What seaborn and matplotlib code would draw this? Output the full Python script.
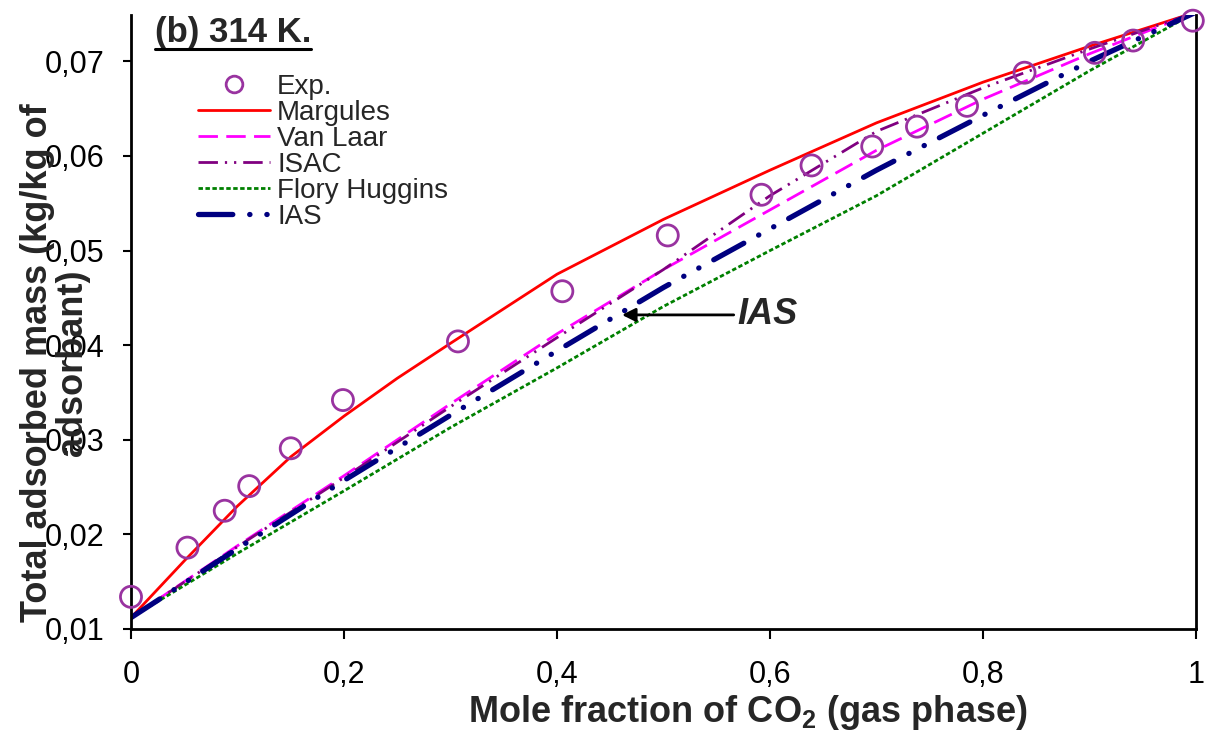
import numpy as np
import pandas as pd
import matplotlib
matplotlib.use("Agg")
import matplotlib.pyplot as plt
import seaborn as sns
from matplotlib.lines import Line2D
from matplotlib.ticker import FuncFormatter, FixedLocator

# ---------------- data ----------------
exp_x = [0.0, 0.053, 0.088, 0.111, 0.150, 0.199, 0.307, 0.405, 0.504, 0.592,
         0.639, 0.696, 0.738, 0.785, 0.839, 0.905, 0.941, 0.997]
exp_y = [0.0134, 0.0186, 0.0225, 0.0251, 0.0291, 0.0342, 0.0404, 0.0457, 0.0516, 0.0559,
         0.0590, 0.0610, 0.0631, 0.0653, 0.0688, 0.0709, 0.0722, 0.0743]

margules_x = [0, 0.05, 0.1, 0.15, 0.2, 0.25, 0.3, 0.4, 0.5, 0.6, 0.7, 0.8, 0.9, 1.0]
margules_y = [0.0112, 0.0172, 0.0230, 0.0282, 0.0325, 0.0365, 0.0402, 0.0475, 0.0533,
              0.0585, 0.0635, 0.0678, 0.0716, 0.0752]

model_x = [0, 0.1, 0.2, 0.3, 0.4, 0.5, 0.6, 0.7, 0.8, 0.9, 1.0]
vanlaar_y = [0.0112, 0.0188, 0.0262, 0.0338, 0.0412, 0.0480, 0.0543, 0.0606, 0.0660, 0.0708, 0.0752]
isac_y = [0.0112, 0.0187, 0.0260, 0.0335, 0.0408, 0.0480, 0.0558, 0.0626, 0.0672, 0.0713, 0.0752]
flory_y = [0.0112, 0.0180, 0.0246, 0.0313, 0.0376, 0.0441, 0.0500, 0.0558, 0.0624, 0.0690, 0.0752]
ias_y = [0.0112, 0.0185, 0.0257, 0.0326, 0.0394, 0.0461, 0.0523, 0.0585, 0.0643, 0.0700, 0.0752]

x_ticks = [0, 0.2, 0.4, 0.6, 0.8, 1.0]
x_tick_labels = ["0", "0,2", "0,4", "0,6", "0,8", "1"]
y_ticks = [0.01, 0.02, 0.03, 0.04, 0.05, 0.06, 0.07]

# ---------------- style ----------------
sns.set_theme(style="white")
plt.rcParams["font.family"] = ["Liberation Sans", "DejaVu Sans"]
plt.rcParams["mathtext.fontset"] = "custom"
plt.rcParams["mathtext.rm"] = "Liberation Sans"
plt.rcParams["mathtext.bf"] = "Liberation Sans:bold"

fig = plt.figure(figsize=(12.08, 7.38), dpi=100)
ax = fig.add_axes([131 / 1208, 1 - 629 / 738, (1196 - 131) / 1208, (629 - 15) / 738])

lines_spec = [
    ("Margules", margules_x, margules_y, "#ff0000", 2.0, "-", "butt"),
    ("Van Laar", model_x, vanlaar_y, "#ff00ff", 2.0, (0, (7, 3)), "butt"),
    ("ISAC", model_x, isac_y, "#800080", 2.0, (0, (7, 2.5, 0.8, 2.5, 0.8, 2.5)), "butt"),
    ("Flory Huggins", model_x, flory_y, "#008000", 2.0, (0, (1.6, 0.9)), "butt"),
    ("IAS", model_x, ias_y, "#000080", 3.8, (0, (6.5, 3.2, 0.05, 3.2, 0.05, 3.2)), "round"),
]

handles = []
for name, xs, ys, col, lw, ls, cap in lines_spec:
    df = pd.DataFrame({"x": xs, "y": ys})
    n_before = len(ax.lines)
    sns.lineplot(data=df, x="x", y="y", ax=ax, color=col, linewidth=lw, sort=False,
                 estimator=None, legend=False, zorder=2)
    ln = ax.lines[n_before]
    ln.set_linestyle(ls)
    ln.set_dash_capstyle(cap)
    ln.set_solid_capstyle(cap)
    handles.append(Line2D([0], [0], color=col, lw=lw, linestyle=ls,
                          dash_capstyle=cap, label=name))

exp_df = pd.DataFrame({"x": exp_x, "y": exp_y})
sns.scatterplot(data=exp_df, x="x", y="y", ax=ax, marker="o", s=230,
                facecolor="none", edgecolor="#9933a0", linewidth=2.0, zorder=4,
                legend=False, clip_on=False)
exp_handle = Line2D([0], [0], marker="o", linestyle="none", markersize=12,
                    markerfacecolor="none", markeredgecolor="#9933a0",
                    markeredgewidth=2.0, label="Exp.")

ax.set_xlim(0, 1)
ax.set_ylim(0.01, 0.0749)
ax.xaxis.set_major_locator(FixedLocator(x_ticks))
ax.set_xticklabels(x_tick_labels)
ax.yaxis.set_major_locator(FixedLocator(y_ticks))
ax.yaxis.set_major_formatter(FuncFormatter(lambda v, p: f"{v:.2f}".replace(".", ",")))

for s in ["left", "bottom", "right"]:
    ax.spines[s].set_visible(True)
    ax.spines[s].set_color("black")
    ax.spines[s].set_linewidth(2.0)
ax.spines["top"].set_visible(False)

ax.tick_params(axis="x", direction="out", length=7, width=1.5, pad=15,
               labelsize=22, colors="black", bottom=True)
ax.tick_params(axis="y", direction="out", length=6, width=1.5, pad=13,
               labelsize=22, colors="black", left=True)

ax.set_xlabel("Mole fraction of CO$_\\mathbf{2}$ (gas phase)", fontsize=26,
              fontweight="bold", va="center")
ax.xaxis.set_label_coords((748 - 131) / 1065, (629 - 712) / 614)

ax.set_ylabel("Total adsorbed mass (kg/kg of\nadsorbant)", fontsize=26,
              fontweight="bold", linespacing=1.0, va="center", ha="center",
              multialignment="center")
ax.yaxis.set_label_coords((55 - 131) / 1065, (629 - 363) / 614)

leg = ax.legend(handles=[exp_handle] + handles, loc="upper left",
                bbox_to_anchor=((198 - 131) / 1065, (629 - 74) / 614),
                frameon=False, fontsize=20, handlelength=2.6, handletextpad=0.25,
                labelspacing=0.0, borderaxespad=0, borderpad=0)

# title with underline
t = ax.text((155 - 131) / 1065, (629 - 42) / 614, "(b) 314 K.", transform=ax.transAxes,
            fontsize=25, fontweight="bold", va="baseline", ha="left")
fig.canvas.draw()
bb = t.get_window_extent(renderer=fig.canvas.get_renderer())
inv = fig.transFigure.inverted()
uy = 1 - 49 / 738
(x0, _), (x1, _) = inv.transform([[bb.x0, 0], [bb.x1, 0]])
fig.add_artist(Line2D([x0, x1], [uy, uy], transform=fig.transFigure,
                      color="black", lw=2.2))

# IAS annotation
ax.annotate("IAS", xy=(0.461, 0.0432), xytext=((737 - 131) / 1065, 0.0432),
            fontsize=26, fontweight="bold", fontstyle="italic",
            va="center", ha="left",
            arrowprops=dict(arrowstyle="-|>", color="black", lw=2,
                            mutation_scale=20, shrinkA=0, shrinkB=0))

fig.savefig("out.png", dpi=100)
